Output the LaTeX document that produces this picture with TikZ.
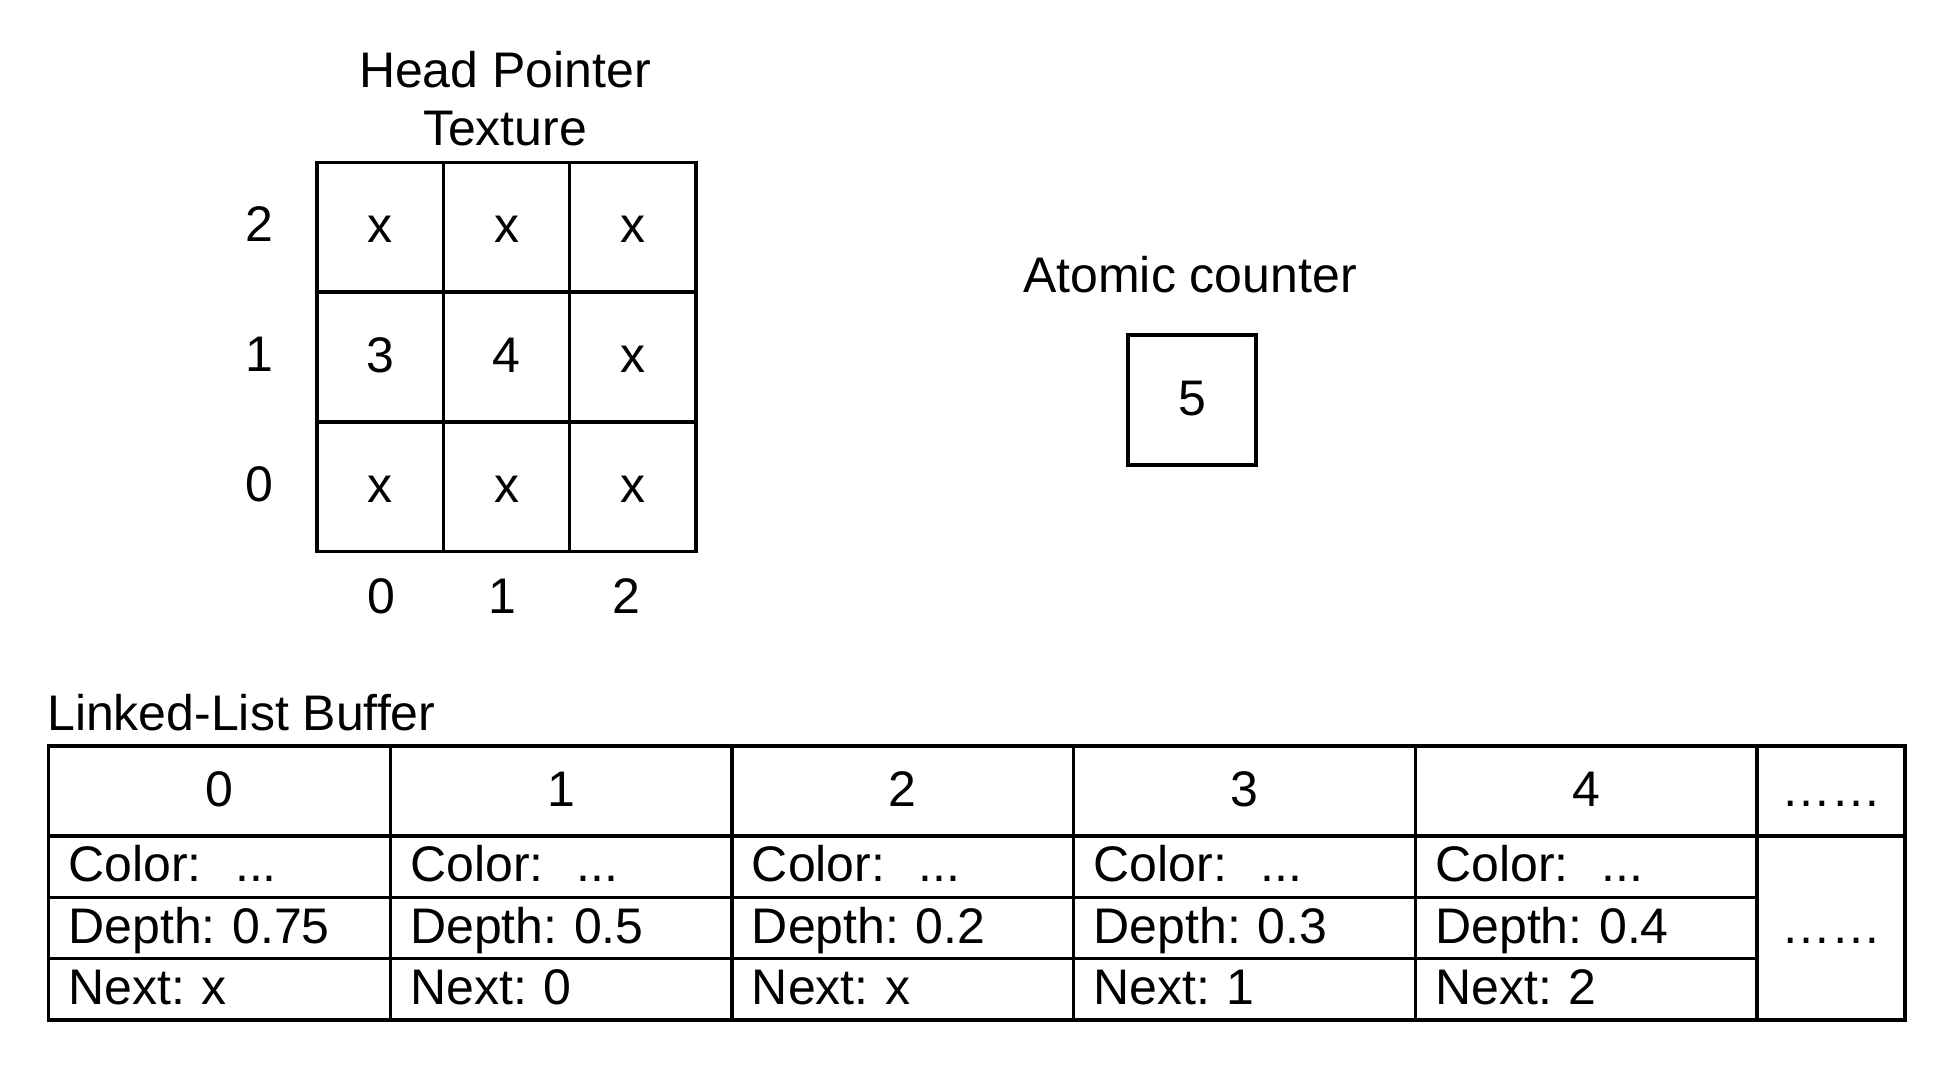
\documentclass[tikz,border=0pt]{standalone}
\usepackage{fontspec}
\setmainfont{Liberation Sans}
\begin{document}
\frenchspacing
\begin{tikzpicture}[x=1pt,y=-1pt,
  every node/.style={font=\fontsize{50}{58}\selectfont\frenchspacing, inner sep=0pt},
  lbl/.style={anchor=base},
  box/.style={draw, line width=3.3pt, text height=30pt, text depth=0pt},
  gcell/.style={box, minimum width=126.33pt, minimum height=129.67pt},
  hcell/.style={box, minimum width=341.7pt, minimum height=90pt},
  rcell/.style={box, minimum width=341.7pt, minimum height=61.33pt, text width=301.7pt, inner xsep=20pt, align=left},
]
\useasboundingbox (0,0) rectangle (1950,1065);

% Head pointer texture
\node[lbl] (hpt1) at (505,87) {Head Pointer};
\node[lbl] (hpt2) at (505,145) {Texture};

\node[gcell] (g02) at (380.2,227) {x};
\node[gcell] (g12) at (506.5,227) {x};
\node[gcell] (g22) at (632.8,227) {x};
\node[gcell] (g01) at (380.2,357.3) {3};
\node[gcell] (g11) at (506.5,357.3) {4};
\node[gcell] (g21) at (632.8,357.3) {x};
\node[gcell] (g00) at (380.2,487) {x};
\node[gcell] (g10) at (506.5,487) {x};
\node[gcell] (g20) at (632.8,487) {x};

\node[lbl] (r2) at (259,241) {2};
\node[lbl] (r1) at (259,371.3) {1};
\node[lbl] (r0) at (259,501) {0};

\node[lbl] (c0) at (381,613) {0};
\node[lbl] (c1) at (502,613) {1};
\node[lbl] (c2) at (626,613) {2};

% Atomic counter
\node[lbl] (actitle) at (1190,292) {Atomic counter};
\node[box, minimum width=128pt, minimum height=130pt] (ac) at (1192,400) {5};

% Linked-list buffer
\node[anchor=base west] (lltitle) at (47,730) {Linked-List Buffer};

\foreach \i/\dep/\nx in {0/0.75/x,1/0.5/0,2/0.2/x,3/0.3/1,4/0.4/2} {
  \pgfmathsetmacro\cx{219.35+341.7*\i}
  \node[hcell] (h\i) at (\cx,791) {\i};
  \node[rcell] (col\i) at (\cx,866.67) {Color:\ \ ...};
  \node[rcell] (dep\i) at (\cx,928) {Depth: \dep};
  \node[rcell] (nxt\i) at (\cx,989.33) {Next: \nx};
}
\node[box, minimum width=148pt, minimum height=90pt] (hmore) at (1831,791) {……};
\node[box, minimum width=148pt, minimum height=184pt] (rmore) at (1831,928) {……};
\end{tikzpicture}
\end{document}
